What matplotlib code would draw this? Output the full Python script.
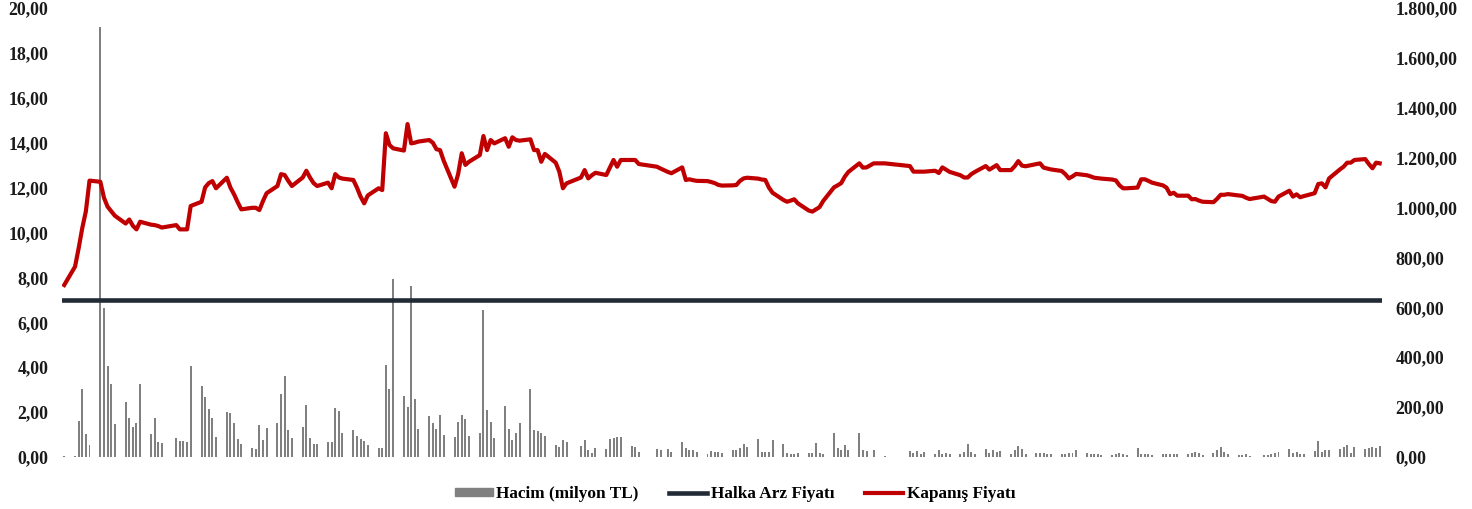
import matplotlib
matplotlib.use("Agg")
import matplotlib.pyplot as plt
from matplotlib.ticker import FuncFormatter
from matplotlib.lines import Line2D
from matplotlib.patches import Patch

plt.rcParams['font.family'] = ['Liberation Serif', 'DejaVu Serif']
plt.rcParams['font.weight'] = 'bold'

# first trading day is a Friday, then 52 weeks Mon..Fri (None = market closed)
ipo_price = 7.00
first_close = 7.66
first_volume = 3

close_weeks = [
    [8.48, 9.30, 10.20, 10.95, 12.31],
    [12.26, 11.55, 11.15, 10.95, 10.75],
    [10.40, 10.58, 10.30, 10.14, 10.48],
    [10.35, 10.33, 10.29, 10.22, None],
    [10.33, 10.14, 10.14, 10.14, 11.18],
    [11.37, 12.01, 12.20, 12.29, 11.97],
    [12.44, 12.00, 11.70, 11.35, 11.03],
    [11.10, 11.10, 11.00, 11.40, 11.75],
    [12.07, 12.60, 12.56, 12.30, 12.07],
    [12.45, 12.75, 12.45, 12.20, 12.07],
    [12.22, 11.97, 12.60, 12.45, 12.40],
    [12.34, 12.00, 11.60, 11.30, 11.65],
    [11.97, 11.89, 14.42, 13.90, 13.75],
    [13.65, 14.83, 13.97, 14.00, 14.05],
    [14.12, 14.00, 13.71, 13.67, 13.20],
    [12.04, 12.60, 13.53, 13.01, 13.15],
    [13.45, 14.30, 13.67, 14.12, 13.97],
    [14.20, 13.82, 14.24, 14.12, 14.09],
    [14.15, 13.67, 13.67, 13.15, 13.50],
    [13.11, 12.71, 11.97, 12.19, None],
    [12.45, 12.78, 12.41, 12.55, 12.66],
    [12.56, 12.90, 13.23, 12.93, 13.23],
    [13.23, 13.23, 13.05, None, None],
    [12.93, 12.85, None, 12.70, 12.64],
    [12.90, 12.34, 12.37, 12.33, 12.30],
    [12.29, 12.25, 12.20, 12.12, 12.09],
    [12.10, 12.12, 12.30, 12.41, 12.44],
    [12.40, 12.36, 12.34, 12.00, 11.77],
    [11.45, 11.37, 11.42, 11.48, 11.30],
    [10.98, 10.93, 11.03, 11.13, 11.40],
    [12.01, 12.10, 12.20, 12.49, 12.70],
    [13.08, 12.89, 12.90, None, 13.08],
    [13.08, None, None, None, None],
    [12.96, 12.71, 12.71, 12.71, 12.71],
    [12.75, 12.65, 12.90, 12.80, 12.70],
    [12.55, 12.45, 12.45, 12.60, 12.70],
    [12.96, 12.80, 12.90, 13.00, 12.78],
    [12.78, 12.95, 13.18, 12.98, 12.95],
    [13.05, 13.08, 12.89, 12.85, 12.81],
    [12.74, 12.60, 12.41, 12.50, 12.61],
    [12.55, 12.50, 12.44, 12.42, 12.40],
    [12.36, 12.32, 12.10, 11.97, 11.97],
    [12.00, 12.37, 12.37, 12.30, 12.22],
    [12.10, 12.00, 11.71, 11.77, 11.64],
    [11.64, 11.48, 11.49, 11.42, 11.37],
    [11.35, 11.50, 11.68, 11.68, 11.71],
    [11.65, 11.63, 11.55, 11.49, None],
    [11.60, 11.50, 11.40, 11.37, 11.60],
    [11.86, 11.60, 11.70, 11.57, 11.62],
    [11.75, 12.16, 12.19, 12.01, 12.41],
    [12.81, 12.93, 13.11, 13.11, 13.23],
    [13.27, 13.05, 12.86, 13.11, 13.08],
]

volume_weeks = [
    [3, 143, 274, 94, 47],
    [1725, 598, 364, 294, 131],
    [221, 156, 120, 138, 291],
    [94, 156, 60, 56, None],
    [78, 63, 63, 60, 364],
    [285, 239, 194, 156, 80],
    [179, 175, 138, 74, 51],
    [36, 32, 127, 70, 115],
    [135, 251, 324, 107, 78],
    [119, 210, 78, 51, 51],
    [59, 59, 198, 186, 96],
    [107, 84, 74, 63, 47],
    [36, 36, 368, 274, 713],
    [243, 201, 687, 231, 111],
    [163, 138, 111, 167, 89],
    [80, 142, 167, 151, 84],
    [96, 588, 190, 142, 78],
    [206, 111, 67, 98, 138],
    [274, 107, 103, 96, 84],
    [47, 40, 67, 59, None],
    [44, 70, 27, 17, 36],
    [32, 74, 78, 80, 80],
    [44, 39, 20, None, None],
    [32, 28, None, 32, 20],
    [59, 36, 28, 28, 20],
    [13, 24, 20, 20, 17],
    [29, 29, 36, 53, 40],
    [74, 20, 20, 20, 70],
    [53, 16, 11, 11, 16],
    [16, 17, 57, 16, 13],
    [96, 36, 28, 47, 29],
    [95, 28, 25, None, 28],
    [6, None, None, None, None],
    [24, 17, 24, 13, 20],
    [11, 29, 13, 17, 13],
    [13, 20, 53, 20, 11],
    [33, 17, 27, 20, 24],
    [13, 29, 44, 33, 11],
    [17, 17, 17, 13, 13],
    [11, 11, 16, 17, 29],
    [17, 11, 13, 11, 7],
    [7, 11, 17, 11, 7],
    [37, 11, 13, 11, 7],
    [13, 11, 13, 11, 13],
    [11, 17, 20, 16, 7],
    [16, 29, 40, 20, 11],
    [7, 7, 11, 3, None],
    [7, 7, 13, 17, 20],
    [33, 17, 20, 13, 11],
    [24, 63, 20, 29, 27],
    [33, 40, 47, 17, 40],
    [33, 36, 40, 36, 44],
]

legend_labels = ["Hacim (milyon TL)", "Halka Arz Fiyatı", "Kapanış Fiyatı"]

days, close, volume = [0], [first_close], [first_volume]
for w in range(len(close_weeks)):
    for d in range(5):
        if close_weeks[w][d] is None:
            continue
        days.append(3 + 7 * w + d)
        close.append(close_weeks[w][d])
        volume.append(volume_weeks[w][d])


def tr_fmt(v, pos):
    s = f"{v:,.2f}"
    return s.replace(",", "X").replace(".", ",").replace("X", ".")


fig = plt.figure(figsize=(14.72, 5.09), dpi=100)
ax = fig.add_axes([62.4 / 1472, 52 / 509, (1381.5 - 62.4) / 1472, 449 / 509])
ax2 = ax.twinx()

ax2.bar(days, volume, width=0.55, color='#808080')
ax.axhline(ipo_price, color='#222a35', lw=3.3, solid_capstyle='round')
ax.plot(days, close, color='#c00000', lw=3.0, solid_joinstyle='round')

ax.set_zorder(ax2.get_zorder() + 1)
ax.patch.set_visible(False)

ax.set_xlim(-0.5, 364.5)
ax.set_ylim(0, 20)
ax2.set_ylim(0, 1800)
ax.set_xticks([])
ax.set_yticks(range(0, 21, 2))
ax2.set_yticks(range(0, 1801, 200))
ax.yaxis.set_major_formatter(FuncFormatter(tr_fmt))
ax2.yaxis.set_major_formatter(FuncFormatter(tr_fmt))
for a in (ax, ax2):
    a.tick_params(axis='y', length=0, pad=10, labelsize=12.8, colors='#1a1a1a')
    for s in a.spines.values():
        s.set_visible(False)

handles = [Patch(color='#808080'),
           Line2D([], [], color='#222a35', lw=3.3),
           Line2D([], [], color='#c00000', lw=3.0)]
fig.legend(handles, legend_labels, loc='center', bbox_to_anchor=(735 / 1472, 15 / 509),
           ncol=3, frameon=False, prop={'weight': 'bold', 'size': 12.4},
           handlelength=2.2, handleheight=0.35, handletextpad=0.2, columnspacing=1.8)

fig.savefig("out.png", dpi=100)
